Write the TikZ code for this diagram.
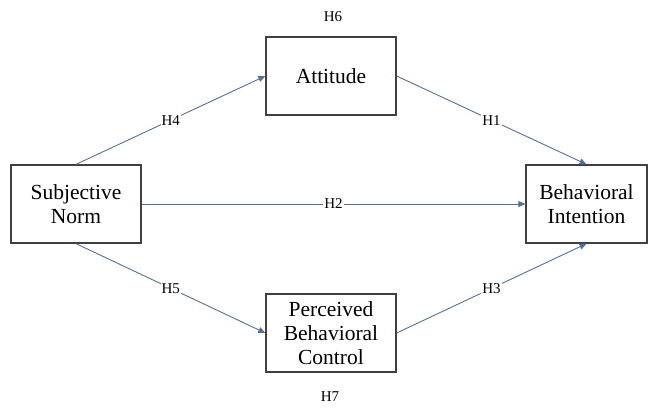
\documentclass[tikz,border=0pt]{standalone}
\usepackage{fontspec}
\setmainfont{Liberation Serif}
\usetikzlibrary{arrows.meta}

\definecolor{edgeblue}{RGB}{84,112,146}

\begin{document}
\begin{tikzpicture}[
            x=1pt, y=1pt,
            font=\fontsize{21.5}{24}\selectfont,
            box/.style={draw=black!75, line width=1.3pt, fill=white,
            minimum height=78pt, minimum width=130pt,
            inner sep=2pt, align=center},
            hyp/.style={font=\fontsize{15}{17}\selectfont, fill=white, inner sep=1pt},
            ar/.style={-{Triangle[length=7pt,width=6pt]}, draw=edgeblue, line width=0.9pt}
        ]
\useasboundingbox (0,0) rectangle (648,408);
% constructs
            \node[box]                            (sn)  at (76,204)    {Subjective\\Norm};
            \node[box]                            (att) at (331,332)   {Attitude};
            \node[box]                            (pbc) at (331,75)    {Perceived\\Behavioral\\Control};
            \node[box, minimum width=121pt]       (bi)  at (586.5,204) {Behavioral\\Intention};
% moderating hypotheses
            \node[hyp, fill=none] (h6) at (333,391) {H6};
            \node[hyp, fill=none] (h7) at (330,11)  {H7};

            \draw[ar] (sn.north) -- node[hyp]{H4} (att.west);
            \draw[ar] (att.east) -- node[hyp]{H1} (bi.north);
            \draw[ar] (sn.east)  -- node[hyp]{H2} (bi.west);
            \draw[ar] (sn.south) -- node[hyp]{H5} (pbc.west);
            \draw[ar] (pbc.east) -- node[hyp]{H3} (bi.south);
        \end{tikzpicture}
\end{document}
